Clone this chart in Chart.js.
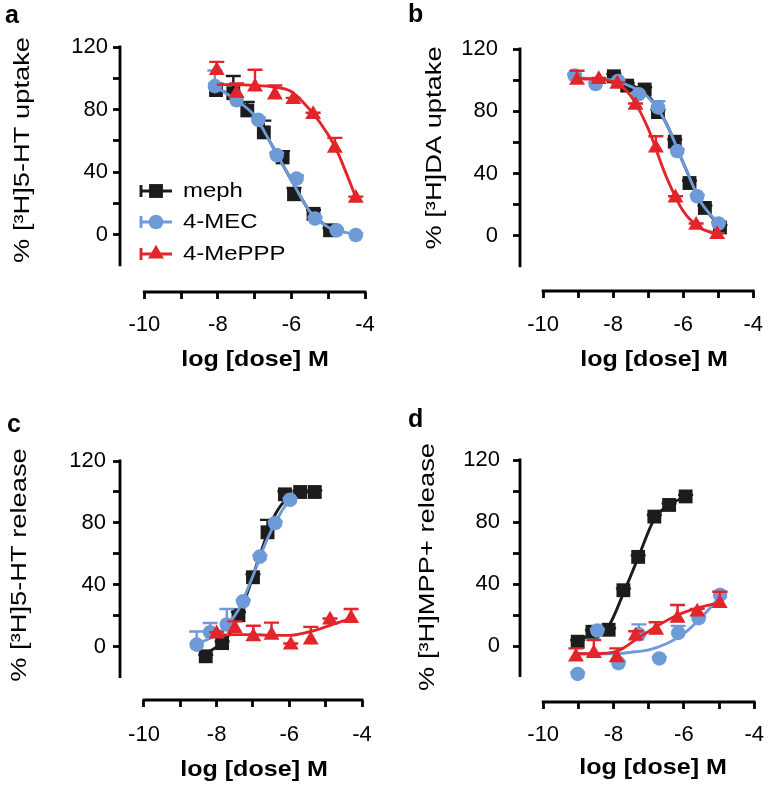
<!DOCTYPE html>
<html><head><meta charset="utf-8">
<script src="https://cdn.jsdelivr.net/npm/chart.js@4.4.1/dist/chart.umd.min.js"></script>
<style>
html,body{margin:0;padding:0;background:#fff;}
#wrap{position:relative;width:777px;height:791px;overflow:hidden;background:#fff;}
canvas{position:absolute;left:0;top:0;}
</style></head><body>
<div id="wrap">
<canvas id="pa" width="777" height="791"></canvas>
<canvas id="pb" width="777" height="791"></canvas>
<canvas id="pc" width="777" height="791"></canvas>
<canvas id="pd" width="777" height="791"></canvas>
</div>
<script>
// ---- tick labels / categories ----
const xTickValues = [-10, -9, -8, -7, -6, -5, -4];
const xTickLabels = ['-10', '', '-8', '', '-6', '', '-4'];
const yTickValues = [0, 20, 40, 60, 80, 100, 120];
const yTickLabels = ['0', '', '40', '', '80', '', '120'];
const seriesNames = ['meph', '4-MEC', '4-MePPP'];
const xTitle = 'log [dose] M';
const yTitles = ['% [\u00B3H]5-HT uptake', '% [\u00B3H]DA uptake', '% [\u00B3H]5-HT release', '% [\u00B3H]MPP+ release'];

// ---- panel a: [3H]5-HT uptake ----
const aMephDose = [-8.05, -7.58, -7.2, -6.75, -6.24, -5.93, -5.4, -4.95];
const aMephMean = [92.5, 90.5, 79.5, 65.5, 49.5, 26, 13.5, 3];
const aMephSem  = [4, 11, 5.5, 7.5, 4, 4, 2.5, 1.5];
const aMephFitDose = [-8.05, -7.5, -7, -6.5, -6, -5.5, -4.95];
const aMephFitVal  = [94, 87, 76, 56, 35, 15, 4];
const a4MecDose = [-8.08, -7.49, -6.9, -6.4, -5.86, -5.36, -4.77, -4.25];
const a4MecMean = [95, 86, 73.5, 51, 36, 10.5, 3, 0];
const a4MecSem  = [10, 2, 1.5, 1.5, 2, 1, 1, 1];
const a4MecFitDose = [-8.08, -7.5, -7, -6.5, -6, -5.5, -5, -4.5, -4.25];
const a4MecFitVal  = [95, 86, 76, 56, 35, 15, 5, 1.5, 0.5];
const aMeppDose = [-8.03, -7.49, -6.99, -6.45, -5.95, -5.41, -4.82, -4.25];
const aMeppMean = [105, 90.5, 94.5, 89.5, 86.5, 77, 55.5, 23.5];
const aMeppSem  = [5.5, 6.3, 11, 6, 1, 1, 6.5, 1];
const aMeppFitDose = [-8.03, -7.5, -7, -6.5, -6, -5.5, -5, -4.75, -4.5, -4.25];
const aMeppFitVal  = [96, 96, 95.5, 94.5, 91.5, 80, 64, 53, 39, 24];

// ---- panel b: [3H]DA uptake ----
const bMephDose = [-7.98, -7.6, -7.1, -6.72, -6.24, -5.82, -5.38, -4.95];
const bMephMean = [102.5, 96.5, 94, 79.5, 60.5, 34, 18, 5.5];
const bMephSem  = [1.5, 1.5, 1.5, 1.5, 1.5, 1.5, 1.5, 1.5];
const bMephFitDose = [-7.98, -7.5, -7, -6.5, -6, -5.5, -4.95];
const bMephFitVal  = [100.5, 97, 90, 73, 47, 22, 6];
const b4MecDose = [-9.1, -8.5, -7.86, -7.27, -6.72, -6.17, -5.6, -4.99];
const b4MecMean = [103, 97.5, 99.5, 91, 82.5, 54.5, 25.5, 8];
const b4MecSem  = [1, 1, 1, 1, 4, 1, 1, 1];
const b4MecFitDose = [-9.1, -8.5, -8, -7.5, -7, -6.5, -6, -5.5, -4.99];
const b4MecFitVal  = [101.5, 101, 100, 96, 89, 73, 47, 22, 8];
const bMeppDose = [-9.03, -8.41, -7.88, -7.36, -6.78, -6.22, -5.63, -5.03];
const bMeppMean = [100, 100.5, 97.5, 84, 56.5, 24.5, 7, 1];
const bMeppSem  = [6, 1, 1, 1, 7.5, 1, 1, 1];
const bMeppFitDose = [-9.03, -8.5, -8, -7.5, -7, -6.5, -6, -5.5, -5.03];
const bMeppFitVal  = [101, 100.5, 99, 90, 69, 39, 16, 5, 1.5];

// ---- panel c: [3H]5-HT release ----
const cMephDose = [-8.3, -7.85, -7.4, -7.0, -6.6, -6.12, -5.7, -5.3];
const cMephMean = [-6, 2.5, 20.5, 45, 74, 98.5, 100, 100];
const cMephSem  = [1, 1, 2, 2, 8, 2, 1, 1];
const cMephFitDose = [-8.3, -8, -7.6, -7.2, -6.8, -6.4, -6, -5.6, -5.3];
const cMephFitVal  = [-4, 0, 10, 32, 60, 85, 97, 100, 100];
const c4MecDose = [-8.55, -8.18, -7.72, -7.27, -6.81, -6.39, -5.98];
const c4MecMean = [1.5, 9.5, 14.5, 29.5, 58.3, 80, 95];
const c4MecSem  = [8.5, 6, 10, 1, 1, 1, 1];
const c4MecFitDose = [-8.55, -8.2, -7.8, -7.4, -7, -6.6, -6.2, -5.98];
const c4MecFitVal  = [2, 5.5, 12, 24, 46, 70, 88, 95];
const cMeppDose = [-8.0, -7.5, -6.99, -6.49, -5.96, -5.41, -4.88, -4.3];
const cMeppMean = [8.5, 12, 6.7, 7.7, 1.3, 4.5, 17.4, 18.5];
const cMeppSem  = [1, 4.5, 7, 8, 1, 8.5, 1, 6];
const cMeppFitDose = [-8.0, -7.5, -7, -6.5, -6, -5.5, -5, -4.3];
const cMeppFitVal  = [7.5, 8, 8, 7.5, 7.5, 9.5, 13, 18.5];

// ---- panel d: [3H]MPP+ release ----
const dMephDose = [-9.02, -8.6, -8.14, -7.72, -7.3, -6.84, -6.42, -5.95];
const dMephMean = [2.8, 9.2, 10.5, 36, 57.5, 83.5, 91, 96.5];
const dMephSem  = [1, 1, 1, 1, 1, 1, 1, 1];
const dMephFitDose = [-9.02, -8.6, -8.14, -7.72, -7.3, -6.84, -6.42, -5.95];
const dMephFitVal  = [3, 8, 13, 34, 57, 82, 91, 96.5];
const d4MecDose = [-9.02, -8.46, -7.86, -7.28, -6.7, -6.16, -5.58, -4.97];
const d4MecMean = [-18, 10, -11, 7.5, -8, 8.5, 18, 33];
const d4MecSem  = [1, 1, 1, 6.5, 1, 4.5, 1, 2];
const d4MecFitDose = [-9.02, -8.5, -8, -7.5, -7, -6.5, -6, -5.5, -4.97];
const d4MecFitVal  = [-5, -5, -5, -4, -2.5, 1.5, 8, 18.5, 32];
const dMeppDose = [-9.07, -8.56, -7.91, -7.37, -6.79, -6.18, -5.62, -4.98];
const dMeppMean = [-7, -4.7, -7.5, 6.5, 10.3, 18, 22, 27.5];
const dMeppSem  = [5.5, 8.5, 6, 3, 5, 8.5, 2, 7.5];
const dMeppFitDose = [-9.07, -8.56, -7.91, -7.37, -6.79, -6.18, -5.62, -4.98];
const dMeppFitVal  = [-5, -5, -3.5, 4, 12.5, 20, 24.5, 28];

// ---- styles ----
const FONT = '"Liberation Sans", Arial, Helvetica, sans-serif';
const COLORS = ['#1c1c1c', '#6e9bd8', '#e2252a'];
const STYLES = [
  {pointStyle: 'rect', radius: 9.8},
  {pointStyle: 'circle', radius: 7.3},
  {pointStyle: 'triangle', radius: 9.2}
];

function pts(xs, ys) { return xs.map((x, i) => ({x: x, y: ys[i]})); }

function buildDatasets(series) {
  // series: [[dose, mean, sem, fitDose, fitVal] x3]; later series drawn on top
  const out = [];
  series.forEach((s, k) => {
    const c = COLORS[k];
    const orderBase = (2 - k) * 2;
    out.push({
      label: seriesNames[k] + ' fit', data: pts(s[3], s[4]), showLine: true,
      borderColor: c, borderWidth: 2.9, pointRadius: 0, tension: 0.4,
      cubicInterpolationMode: 'monotone', fill: false, order: orderBase + 1, clip: false
    });
    out.push({
      label: seriesNames[k], data: pts(s[0], s[1]), sem: s[2], showLine: false,
      backgroundColor: c, borderColor: c, pointBackgroundColor: c, pointBorderColor: c,
      pointBorderWidth: 0, pointStyle: STYLES[k].pointStyle, pointRadius: STYLES[k].radius,
      order: orderBase, clip: false
    });
  });
  return out;
}

function stretchedText(ctx, text, x, y, font, sx, rot, align, baseline) {
  ctx.save();
  ctx.translate(x, y);
  if (rot) ctx.rotate(rot);
  ctx.scale(sx, 1);
  ctx.font = font;
  ctx.fillStyle = '#000';
  ctx.textAlign = align || 'center';
  ctx.textBaseline = baseline || 'middle';
  ctx.fillText(text, 0, 0);
  ctx.restore();
}

function drawMarker(ctx, k, x, y) {
  ctx.fillStyle = COLORS[k];
  ctx.strokeStyle = COLORS[k];
  if (Chart.helpers && Chart.helpers.drawPoint) {
    Chart.helpers.drawPoint(ctx, {pointStyle: STYLES[k].pointStyle, radius: STYLES[k].radius, rotation: 0, borderWidth: 0}, x, y);
  } else {
    ctx.beginPath(); ctx.arc(x, y, 7, 0, Math.PI * 2); ctx.fill();
  }
}

const decor = {
  id: 'decor',
  beforeDatasetDraw(chart, args) {
    const ds = chart.data.datasets[args.index];
    if (!ds.sem) return;
    const ctx = chart.ctx, ys = chart.scales.y;
    ctx.save();
    ctx.strokeStyle = ds.borderColor;
    ctx.lineWidth = 2.4;
    args.meta.data.forEach((p, i) => {
      const top = ys.getPixelForValue(ds.data[i].y + ds.sem[i]);
      ctx.beginPath();
      ctx.moveTo(p.x, p.y); ctx.lineTo(p.x, top);
      ctx.moveTo(p.x - 7.5, top); ctx.lineTo(p.x + 7.5, top);
      ctx.stroke();
    });
    ctx.restore();
  },
  afterDraw(chart, args, o) {
    const ctx = chart.ctx, xs = chart.scales.x, ys = chart.scales.y, ca = chart.chartArea;
    ctx.save();
    ctx.strokeStyle = '#000';
    ctx.lineWidth = 2.8;
    ctx.beginPath();
    ctx.moveTo(ca.left, ys.getPixelForValue(yTickValues[yTickValues.length - 1]) - 1.4);
    ctx.lineTo(ca.left, ys.getPixelForValue(-20));
    ctx.moveTo(xs.getPixelForValue(xTickValues[0]) - 1.4, ca.bottom);
    ctx.lineTo(xs.getPixelForValue(xTickValues[xTickValues.length - 1]) + 1.4, ca.bottom);
    ctx.stroke();
    ctx.restore();

    // axis titles
    stretchedText(ctx, xTitle, o.xTitle[0], o.xTitle[1], 'bold 22px ' + FONT, 1.14, 0);
    stretchedText(ctx, o.yTitle, o.yTitlePos[0], o.yTitlePos[1], '22px ' + FONT, 1.24, -Math.PI / 2);
    // panel letter
    stretchedText(ctx, o.letter, o.letterPos[0], o.letterPos[1], 'bold 25px ' + FONT, 1.0, 0, 'left', 'alphabetic');

    // legend (panel a only)
    if (o.legend) {
      const rows = o.legend.rows;
      seriesNames.forEach((name, k) => {
        const y = rows[k];
        ctx.save();
        ctx.strokeStyle = COLORS[k];
        ctx.lineWidth = 2.9;
        ctx.beginPath();
        ctx.moveTo(o.legend.x1, y); ctx.lineTo(o.legend.x2, y);
        ctx.moveTo(o.legend.x1 + 1, y - 6); ctx.lineTo(o.legend.x1 + 1, y + 6);
        ctx.stroke();
        drawMarker(ctx, k, (o.legend.x1 + o.legend.x2) / 2, y);
        ctx.restore();
        stretchedText(ctx, name, o.legend.tx, y, '21px ' + FONT, 1.14, 0, 'left', 'middle');
      });
    }
  }
};

function makePanel(id, g, series, extra) {
  const cfg = {
    type: 'scatter',
    data: {datasets: buildDatasets(series)},
    options: {
      responsive: false, animation: false, devicePixelRatio: 1, events: [],
      layout: {padding: {left: 0, top: g.top, right: 777 - g.right, bottom: 0}},
      plugins: {legend: {display: false}, tooltip: {enabled: false}, decor: extra},
      scales: {
        x: {
          type: 'linear', position: 'bottom', min: -10.66, max: -4,
          afterBuildTicks: s => { s.ticks = xTickValues.map(v => ({value: v})); },
          afterFit: s => { s.height = 791 - g.bottom; },
          grid: {display: true, drawOnChartArea: false, drawTicks: true, tickLength: 7, tickWidth: 2.8, tickColor: '#000'},
          border: {display: false},
          ticks: {autoSkip: false, maxRotation: 0, padding: g.xPad, color: '#000',
                  font: {family: FONT, size: 22}, callback: (v, i) => xTickLabels[i]}
        },
        y: {
          type: 'linear', position: 'left', min: g.ymin, max: 120,
          afterBuildTicks: s => { s.ticks = yTickValues.map(v => ({value: v})); },
          afterFit: s => { s.width = g.left; },
          grid: {display: true, drawOnChartArea: false, drawTicks: true, tickLength: 7, tickWidth: 2.8, tickColor: '#000'},
          border: {display: false},
          ticks: {autoSkip: false, padding: g.yPad, color: '#000',
                  font: {family: FONT, size: 22}, callback: (v, i) => yTickLabels[i]}
        }
      }
    },
    plugins: [decor]
  };
  return new Chart(document.getElementById(id), cfg);
}

makePanel('pa', {left: 120, right: 365, top: 47, bottom: 292, ymin: -36.4, yPad: 5, xPad: 13},
  [[aMephDose, aMephMean, aMephSem, aMephFitDose, aMephFitVal],
   [a4MecDose, a4MecMean, a4MecSem, a4MecFitDose, a4MecFitVal],
   [aMeppDose, aMeppMean, aMeppSem, aMeppFitDose, aMeppFitVal]],
  {yTitle: yTitles[0], yTitlePos: [23, 150], xTitle: [255, 360], letter: 'a', letterPos: [5, 23],
   legend: {x1: 140, x2: 172, tx: 183, rows: [191, 222, 254]}});

makePanel('pb', {left: 520, right: 762, top: 49, bottom: 291, ymin: -35.3, yPad: 15, xPad: 14},
  [[bMephDose, bMephMean, bMephSem, bMephFitDose, bMephFitVal],
   [b4MecDose, b4MecMean, b4MecSem, b4MecFitDose, b4MecFitVal],
   [bMeppDose, bMeppMean, bMeppSem, bMeppFitDose, bMeppFitVal]],
  {yTitle: yTitles[1], yTitlePos: [435, 148], xTitle: [654, 360], letter: 'b', letterPos: [408, 22]});

makePanel('pc', {left: 120, right: 362, top: 461, bottom: 700, ymin: -34.2, yPad: 7, xPad: 15},
  [[cMephDose, cMephMean, cMephSem, cMephFitDose, cMephFitVal],
   [c4MecDose, c4MecMean, c4MecSem, c4MecFitDose, c4MecFitVal],
   [cMeppDose, cMeppMean, cMeppSem, cMeppFitDose, cMeppFitVal]],
  {yTitle: yTitles[2], yTitlePos: [20, 565], xTitle: [254, 770], letter: 'c', letterPos: [7, 432]});

makePanel('pd', {left: 520, right: 760, top: 460, bottom: 702, ymin: -36.1, yPad: 13, xPad: 13},
  [[dMephDose, dMephMean, dMephSem, dMephFitDose, dMephFitVal],
   [d4MecDose, d4MecMean, d4MecSem, d4MecFitDose, d4MecFitVal],
   [dMeppDose, dMeppMean, dMeppSem, dMeppFitDose, dMeppFitVal]],
  {yTitle: yTitles[3], yTitlePos: [428, 567], xTitle: [653, 768], letter: 'd', letterPos: [408, 427]});
</script>
</body></html>
